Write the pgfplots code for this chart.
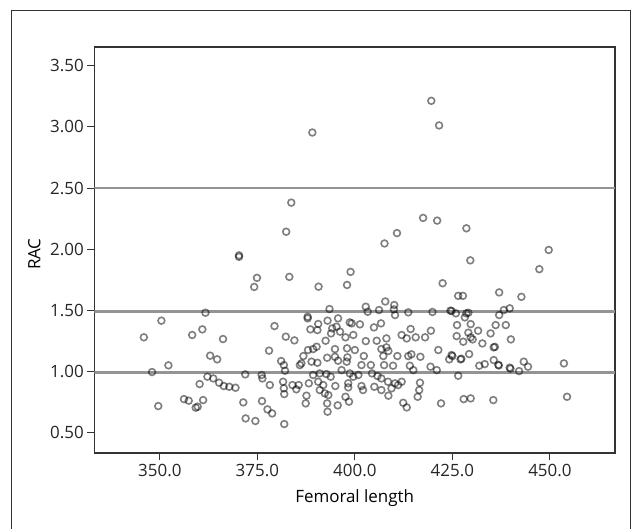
\documentclass[border=0pt]{standalone}
\usepackage{pgfplots}
\pgfplotsset{compat=1.18}
\usepackage{fontspec}
\setmainfont{Open Sans}

\pgfplotstableread{
x y
419.6 3.213
421.6 3.012
389.1 2.954
383.7 2.381
417.5 2.256
421.1 2.234
428.6 2.171
382.4 2.143
410.8 2.132
407.6 2.047
449.7 1.994
370.3 1.950
370.3 1.938
429.6 1.909
398.9 1.815
447.3 1.837
374.9 1.766
383.2 1.774
422.5 1.722
374.2 1.692
390.7 1.694
398.0 1.708
437.0 1.647
442.7 1.611
426.5 1.619
427.7 1.619
407.8 1.573
361.7 1.481
350.4 1.416
345.9 1.280
358.3 1.299
360.9 1.345
366.2 1.266
379.4 1.372
382.3 1.285
384.5 1.255
378.0 1.171
362.9 1.130
364.7 1.100
352.2 1.051
348.0 0.996
381.1 1.086
381.8 1.053
382.1 1.007
385.9 1.053
371.9 0.977
376.1 0.972
376.3 0.944
362.2 0.958
363.7 0.944
365.2 0.909
366.4 0.882
367.8 0.876
369.4 0.868
360.2 0.898
378.2 0.890
381.6 0.917
381.8 0.863
381.9 0.816
384.0 0.890
385.0 0.855
356.2 0.775
357.4 0.762
361.1 0.767
359.2 0.705
359.7 0.713
349.6 0.718
371.4 0.748
376.2 0.759
377.6 0.691
378.8 0.658
372.0 0.617
374.5 0.596
381.9 0.571
393.5 1.511
402.8 1.530
410.1 1.544
387.9 1.448
387.9 1.435
403.3 1.489
406.2 1.503
410.0 1.508
410.3 1.462
413.7 1.484
419.9 1.487
424.5 1.498
393.0 1.416
395.7 1.435
398.7 1.402
399.2 1.394
401.3 1.386
404.9 1.361
406.7 1.394
390.6 1.389
388.6 1.345
390.4 1.339
394.2 1.353
395.3 1.367
396.2 1.326
393.9 1.312
397.6 1.280
399.6 1.299
392.5 1.252
402.8 1.249
405.6 1.252
408.1 1.271
412.0 1.299
413.3 1.271
414.3 1.348
419.5 1.334
415.6 1.280
418.0 1.280
390.2 1.203
388.0 1.176
389.3 1.184
398.0 1.190
400.0 1.176
394.9 1.184
406.8 1.184
408.1 1.198
408.6 1.168
421.4 1.176
424.8 1.135
386.8 1.127
386.3 1.067
392.9 1.113
394.9 1.121
398.1 1.116
402.3 1.127
407.3 1.127
410.9 1.127
413.7 1.127
414.5 1.141
416.8 1.121
388.9 1.081
390.4 1.072
395.7 1.089
397.9 1.081
401.7 1.053
404.1 1.053
407.5 1.053
409.8 1.048
414.1 1.048
415.0 1.012
419.4 1.040
421.0 1.012
389.3 0.972
391.0 0.985
392.7 0.980
393.8 0.958
398.7 0.985
399.6 0.958
400.9 0.972
404.4 0.985
405.8 0.963
396.6 1.012
406.8 0.944
408.5 0.917
385.6 0.890
388.2 0.904
390.6 0.917
391.9 0.890
391.0 0.849
392.3 0.822
393.2 0.808
395.0 0.882
398.3 0.904
398.3 0.871
401.7 0.882
402.1 0.849
405.0 0.876
406.8 0.849
410.3 0.904
411.1 0.890
412.0 0.917
409.4 0.863
416.7 0.909
416.5 0.849
416.1 0.794
408.6 0.803
387.6 0.803
387.4 0.740
392.9 0.740
393.0 0.672
395.6 0.724
397.6 0.794
398.5 0.754
412.4 0.745
413.3 0.707
422.1 0.740
424.2 1.100
424.8 1.495
425.9 1.476
428.6 1.476
429.1 1.481
428.2 1.443
437.0 1.462
438.2 1.503
439.7 1.517
426.2 1.380
429.7 1.388
436.1 1.380
438.7 1.380
431.6 1.334
429.1 1.318
426.1 1.290
427.8 1.244
429.7 1.280
430.2 1.263
432.7 1.230
434.8 1.312
440.0 1.263
435.6 1.198
435.9 1.202
425.0 1.127
427.1 1.100
427.3 1.105
429.3 1.143
431.9 1.048
433.3 1.061
435.6 1.094
436.8 1.055
436.9 1.050
439.7 1.032
439.9 1.024
442.1 1.004
443.3 1.081
444.4 1.040
453.6 1.067
426.5 0.966
427.9 0.775
429.7 0.781
435.5 0.767
454.4 0.794
}\femur

\begin{document}
\begin{tikzpicture}
\path[use as bounding box] (0,0) rectangle (635bp,529bp);
% outer frame, open at the bottom
\draw[line width=1bp, black!80] (11.7bp,-2bp) -- (11.7bp,518bp) -- (630bp,518bp) -- (630bp,-2bp);
\begin{axis}[
  at={(94.3bp,75.7bp)}, anchor=south west,
  width=520.7bp, height=406.3bp, scale only axis,
  xmin=333.2, xmax=466.7, ymin=0.332, ymax=3.653,
  axis line style={line width=1.6bp, black!80},
  xtick={350,375,400,425,450},
  ytick={0.5,1,1.5,2,2.5,3,3.5},
  tick align=outside, tick pos=left,
  major tick length=7bp,
  tick style={line width=1bp, black!80},
  font=\fontsize{17}{20}\selectfont,
  /pgf/number format/assume math mode=true,
  xticklabel style={/pgf/number format/.cd, fixed, fixed zerofill, precision=1},
  yticklabel style={/pgf/number format/.cd, fixed, fixed zerofill, precision=2},
  ticklabel style={text=black!85},
  xlabel={Femoral length}, ylabel={RAC},
  every axis x label/.style={at={(axis description cs:0.5,-0.110)}, anchor=center},
  every axis y label/.style={at={(axis description cs:-0.115,0.49)}, anchor=center, rotate=90},
  clip=true,
]
\addplot[line width=2.6bp, black!42] coordinates {(333.2,2.5) (466.7,2.5)};
\addplot[line width=2.6bp, black!42] coordinates {(333.2,1.49) (466.7,1.49)};
\addplot[line width=2.6bp, black!42] coordinates {(333.2,0.99) (466.7,0.99)};
\addplot[only marks, mark=o, mark size=3.4bp,
  mark options={draw=black, draw opacity=0.5, line width=1.6bp}]
  table[x=x, y=y] {\femur};
\end{axis}
\end{tikzpicture}
\end{document}
